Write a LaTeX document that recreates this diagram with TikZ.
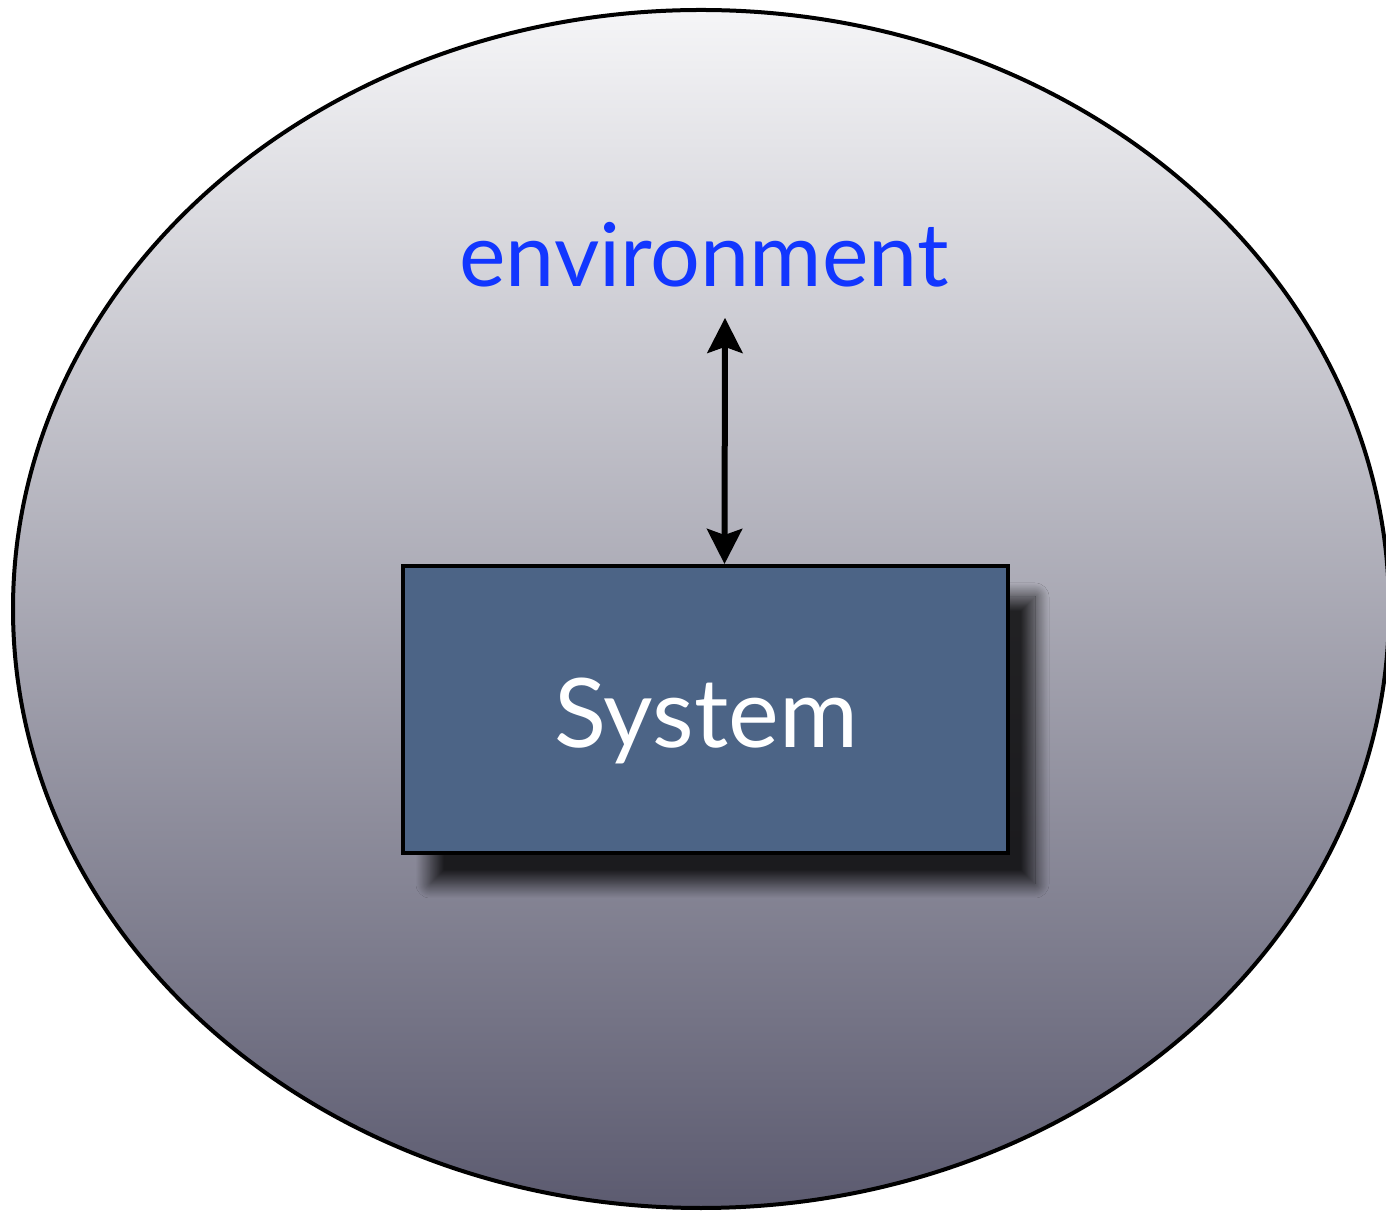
\documentclass[tikz,border=0pt]{standalone}
\usepackage{fontspec}
\setmainfont{Lato}
\usetikzlibrary{arrows.meta,shadows.blur}
\definecolor{envblue}{HTML}{1236FF}
\definecolor{sysfill}{HTML}{4C6486}
\definecolor{gtop}{HTML}{F5F5F7}
\definecolor{gmid}{HTML}{AFAEB8}
\definecolor{gbot}{HTML}{5C5B70}
\tikzset{
  world/.style={draw=black, line width=4pt, top color=gtop, middle color=gmid, bottom color=gbot},
  sysbox/.style={draw=black, line width=4pt, fill=sysfill, minimum width=605pt, minimum height=287pt,
    inner sep=0pt, blur shadow={shadow xshift=27pt, shadow yshift=-31pt, shadow blur radius=14pt,
    shadow blur steps=20, shadow opacity=80}},
  envlabel/.style={text=envblue, font=\fontsize{88}{100}\selectfont, inner sep=0pt},
  syslabel/.style={text=white, font=\fontsize{96}{110}\selectfont, inner sep=0pt},
  link/.style={line width=6pt, {Stealth[length=35pt,width=35pt,inset=6pt]}-{Stealth[length=35pt,width=35pt,inset=6pt]}}
}
\begin{document}
\begin{tikzpicture}[x=1pt,y=1pt]
\useasboundingbox (0,0) rectangle (1386,1210);
\fill[white] (0,0) rectangle (1386,1210);
\path[world] (701,601) ellipse [x radius=688, y radius=599];
\node[sysbox] (sys) at (705.5,500.5) {};
\node[syslabel, anchor=base] (systxt) at (706,462) {System};
\node[envlabel, anchor=base] (env) at (704,923) {environment};
\draw[link] ([xshift=21pt, yshift=-30pt]env.south) -- ([xshift=19pt]sys.north);
\end{tikzpicture}
\end{document}
